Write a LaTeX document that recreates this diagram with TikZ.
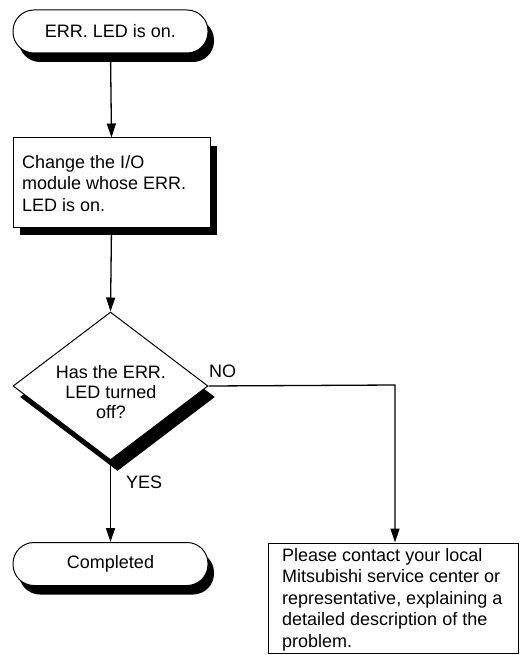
\documentclass[tikz,border=0pt]{standalone}
\usepackage{fontspec}
\setmainfont{Liberation Sans}
\usetikzlibrary{shapes.geometric,shadows,arrows.meta}
\begin{document}
\begin{tikzpicture}[x=1pt,y=-1pt,
  every node/.style={font=\fontsize{18}{21.5}\selectfont},
  term/.style={draw,line width=1pt,fill=white,rectangle,rounded corners=21pt,minimum width=195pt,minimum height=43pt,inner sep=0pt,
    drop shadow={shadow xshift=6pt,shadow yshift=-9pt,fill=black,opacity=1}},
  proc/.style={draw,line width=1pt,fill=white,rectangle,minimum width=197pt,minimum height=89pt,inner sep=0pt,
    drop shadow={shadow xshift=7pt,shadow yshift=-8pt,fill=black,opacity=1}},
  dec/.style={draw,line width=1pt,fill=white,diamond,minimum width=195pt,minimum height=148pt,inner sep=0pt,
    drop shadow={shadow xshift=7pt,shadow yshift=-11pt,fill=black,opacity=1}},
  plain/.style={draw,line width=1pt,fill=white,rectangle,minimum width=250pt,minimum height=110pt,inner sep=0pt},
  arr/.style={line width=1.3pt,-{Triangle[length=14pt,width=9pt]}},
  txt/.style={align=left,inner sep=0pt,anchor=north west}
]
\useasboundingbox (0,0) rectangle (521,655);
\node[term] (start) at (110.5,31.5) {ERR. LED is on.};
\node[proc] (chg) at (111.5,182.5) {};
\node[txt] (chgt) at (22,155) {Change the I/O\\module whose ERR.\\LED is on.};
\node[dec] (dec) at (110.5,386) {};
\node[align=center,inner sep=0pt,anchor=north,font=\fontsize{18}{20}\selectfont] (dect) at (111,365) {Has the ERR.\\LED turned\\off?};
\node[term] (done) at (110.5,564) {Completed};
\node[plain] (cont) at (393,598) {};
\node[txt] (contt) at (282,548) {Please contact your local\\Mitsubishi service center or\\representative, explaining a\\detailed description of the\\problem.};
\coordinate (corner) at (395,385);
\draw[arr] (start.south) -- (chg.north);
\draw[arr] (chg.south) -- (dec.north);
\draw[arr] (dec.south) -- (done.north);
\draw[arr] (dec.east) -- (corner) -- (corner |- cont.north);
\node[anchor=base west,inner sep=0pt] (no) at (209,377) {NO};
\node[anchor=base west,inner sep=0pt] (yes) at (126,488) {YES};
\end{tikzpicture}
\end{document}
